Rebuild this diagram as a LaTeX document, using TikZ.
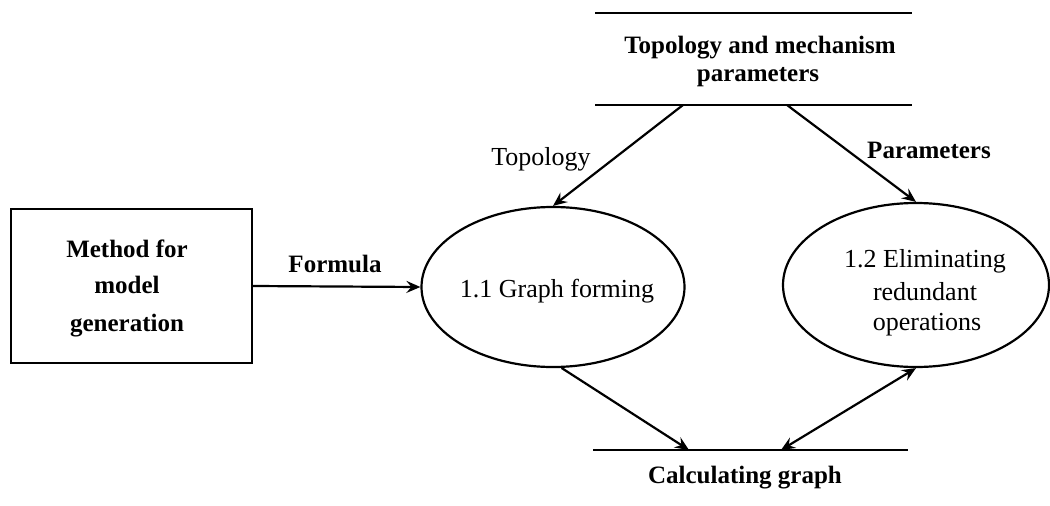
\documentclass[tikz,border=0pt]{standalone}
\usepackage{fontspec}
\setmainfont{Liberation Serif}
\usetikzlibrary{arrows.meta,shapes.geometric}
\begin{document}
\begin{tikzpicture}[x=1pt,y=-1pt,
  line width=2.2pt,
  arr/.style={-{Stealth[length=14pt,width=12pt,inset=5pt]}},
  darr/.style={{Stealth[length=14pt,width=12pt,inset=5pt]}-{Stealth[length=14pt,width=12pt,inset=5pt]}},
  bl/.style={anchor=base,font=\fontsize{25}{30}\selectfont\bfseries,inner sep=0pt},
  rl/.style={anchor=base,font=\fontsize{26}{30}\selectfont,inner sep=0pt},
  proc/.style={draw,ellipse,inner sep=0pt}]
\useasboundingbox (0,0) rectangle (1050,506);

% external entity box
\node[draw,minimum width=241pt,minimum height=154pt,inner sep=0pt] (box) at (131.5,286) {};
\node[bl] (boxt1) at (127,257) {Method for};
\node[bl] (boxt2) at (127,293) {model};
\node[bl] (boxt3) at (127,331) {generation};

% processes
\node[proc,minimum width=263pt,minimum height=160pt] (e1) at (553,287) {};
\node[rl] (e1t) at (557,297) {1.1 Graph forming};
\node[proc,minimum width=266pt,minimum height=164pt] (e2) at (916,285) {};
\node[rl] (e2t1) at (925,267) {1.2 Eliminating};
\node[rl] (e2t2) at (925,300) {redundant};
\node[rl] (e2t3) at (927,330) {operations};

% data store: topology and mechanism parameters
\coordinate (s1l) at (595,13);
\coordinate (s1r) at (912,13);
\coordinate (s2l) at (595,105);
\coordinate (s2r) at (912,105);
\draw (s1l) -- (s1r);
\draw (s2l) -- (s2r);
\node[bl] (st1) at (760,53) {Topology and mechanism};
\node[bl] (st2) at (758,81) {parameters};
\coordinate (sA) at (683,105);
\coordinate (sB) at (787,105);

% data store: calculating graph
\coordinate (c1l) at (593,450);
\coordinate (c1r) at (908,450);
\draw (c1l) -- (c1r);
\node[bl] (cg) at (745,483) {Calculating graph};
\coordinate (cA) at (689,450);
\coordinate (cB) at (781,450);

% connectors
\draw[arr] (box.east) -- (e1.west);
\node[bl] (lf) at (335,272) {Formula};
\draw[arr] (sA) -- (e1.north);
\node[rl] (lt) at (541,165) {Topology};
\draw[arr] (sB) -- (e2.north);
\node[bl] (lp) at (929,158) {Parameters};
\draw[arr] (e1.-84) -- (cA);
\draw[darr] (cB) -- (e2.south);
\end{tikzpicture}
\end{document}
